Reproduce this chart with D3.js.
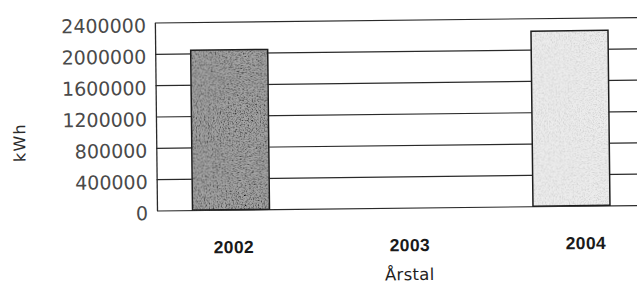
<!DOCTYPE html>
<html>
<head>
<meta charset="utf-8">
<script src="https://cdn.jsdelivr.net/npm/d3@7"></script>
<style>
  html, body { margin: 0; padding: 0; background: #fff; }
  svg { display: block; }
</style>
</head>
<body>
<svg id="chart" width="637" height="285"></svg>
<script>
// ---- data ----
const categories = ["2002", "2003", "2004"];
const kwhValues = [2040000, null, 2235000];
const yTickValues = [0, 400000, 800000, 1200000, 1600000, 2000000, 2400000];
const yTickLabels = ["0", "400000", "800000", "1200000", "1600000", "2000000", "2400000"];
const yAxisTitle = "kWh";
const xAxisTitle = "Årstal";

// ---- layout ----
const W = 637, H = 285;
const plot = { left: 157, top: 22.5, bottom: 210.5, right: 670 };
const barFills = ["#a4a4a4", null, "#ededed"];
const grainStrength = [1.35, null, 0.35];

const svg = d3.select("#chart");
const defs = svg.append("defs");

function grainFilter(id, seed, contrast) {
  const f = defs.append("filter").attr("id", id)
    .attr("x", 0).attr("y", 0).attr("width", 1).attr("height", 1);
  f.append("feTurbulence").attr("type", "fractalNoise")
    .attr("baseFrequency", "0.75").attr("numOctaves", 2).attr("seed", seed).attr("result", "n");
  f.append("feColorMatrix").attr("in", "n").attr("type", "saturate").attr("values", 0).attr("result", "g");
  const ct = f.append("feComponentTransfer").attr("in", "g").attr("result", "g2");
  const slope = 2.6 * contrast, icpt = 1 - 0.5 * slope - 0.15 * contrast;
  ["R", "G", "B"].forEach(c => ct.append("feFunc" + c).attr("type", "linear").attr("slope", slope).attr("intercept", icpt));
  ct.append("feFuncA").attr("type", "linear").attr("slope", 0).attr("intercept", 1);
  f.append("feBlend").attr("in", "SourceGraphic").attr("in2", "g2").attr("mode", "multiply").attr("result", "b");
  f.append("feComposite").attr("in", "b").attr("in2", "SourceGraphic").attr("operator", "in");
}
grainFilter("grain0", 7, grainStrength[0]);
grainFilter("grain2", 11, grainStrength[2]);

const root = svg.append("g")
  .attr("transform", `rotate(-0.65, ${plot.left}, ${plot.bottom})`);

const y = d3.scaleLinear().domain([0, 2400000]).range([plot.bottom, plot.top]);
const xBars = d3.scalePoint().domain(categories).range([231, 571.5]);
const xLabels = d3.scalePoint().domain(categories).range([233, 585]);
const barW = 77;

// gridlines + y tick labels
const yAxis = d3.axisLeft(y)
  .tickValues(yTickValues)
  .tickFormat((d, i) => yTickLabels[i])
  .tickSize(-(plot.right - plot.left))
  .tickSizeOuter(0)
  .tickPadding(9);
const gy = root.append("g")
  .attr("transform", `translate(${plot.left},0)`)
  .call(yAxis);
gy.select(".domain").attr("stroke", "#2a2a2a").attr("stroke-width", 1.3);
gy.selectAll(".tick line").attr("stroke", "#2a2a2a").attr("stroke-width", 1.2);
gy.selectAll(".tick text")
  .attr("font-family", "'DejaVu Sans', sans-serif")
  .attr("font-size", 19)
  .attr("fill", "#4a4a4a")
  .attr("dy", "0.48em");

// bars
const barData = categories.map((c, i) => ({ c, v: kwhValues[i], i })).filter(d => d.v != null);
const bars = root.append("g");
bars.selectAll("rect.fill").data(barData).join("rect")
  .attr("class", "fill")
  .attr("x", d => xBars(d.c) - barW / 2)
  .attr("y", d => y(d.v))
  .attr("width", barW)
  .attr("height", d => y(0) - y(d.v))
  .attr("fill", d => barFills[d.i])
  .attr("filter", d => `url(#grain${d.i})`);
bars.selectAll("rect.edge").data(barData).join("rect")
  .attr("class", "edge")
  .attr("x", d => xBars(d.c) - barW / 2)
  .attr("y", d => y(d.v))
  .attr("width", barW)
  .attr("height", d => y(0) - y(d.v))
  .attr("fill", "none")
  .attr("stroke", "#1e1e1e")
  .attr("stroke-width", 1.5);

// x labels
const xAxis = d3.axisBottom(xLabels).tickSize(0).tickPadding(0);
const gx = root.append("g")
  .attr("transform", `translate(0,${plot.bottom})`)
  .call(xAxis);
gx.select(".domain").remove();
gx.selectAll(".tick text")
  .attr("font-family", "'Liberation Sans', Arial, sans-serif")
  .attr("font-weight", "bold")
  .attr("font-size", 17.5)
  .attr("fill", "#1a1a1a")
  .attr("letter-spacing", 0.4)
  .attr("dy", 0)
  .attr("y", 43.5);

// axis titles
root.append("text")
  .attr("x", (xLabels("2003")))
  .attr("y", 283)
  .attr("text-anchor", "middle")
  .attr("font-family", "'DejaVu Sans', sans-serif")
  .attr("font-size", 16.5)
  .attr("fill", "#1e1e1e")
  .attr("letter-spacing", 0.3)
  .text(xAxisTitle);

root.append("text")
  .attr("transform", "translate(26,141) rotate(-90)")
  .attr("text-anchor", "middle")
  .attr("font-family", "'DejaVu Sans', sans-serif")
  .attr("font-size", 16)
  .attr("fill", "#2a2a2a")
  .attr("letter-spacing", 1.2)
  .text(yAxisTitle);
</script>
</body>
</html>
